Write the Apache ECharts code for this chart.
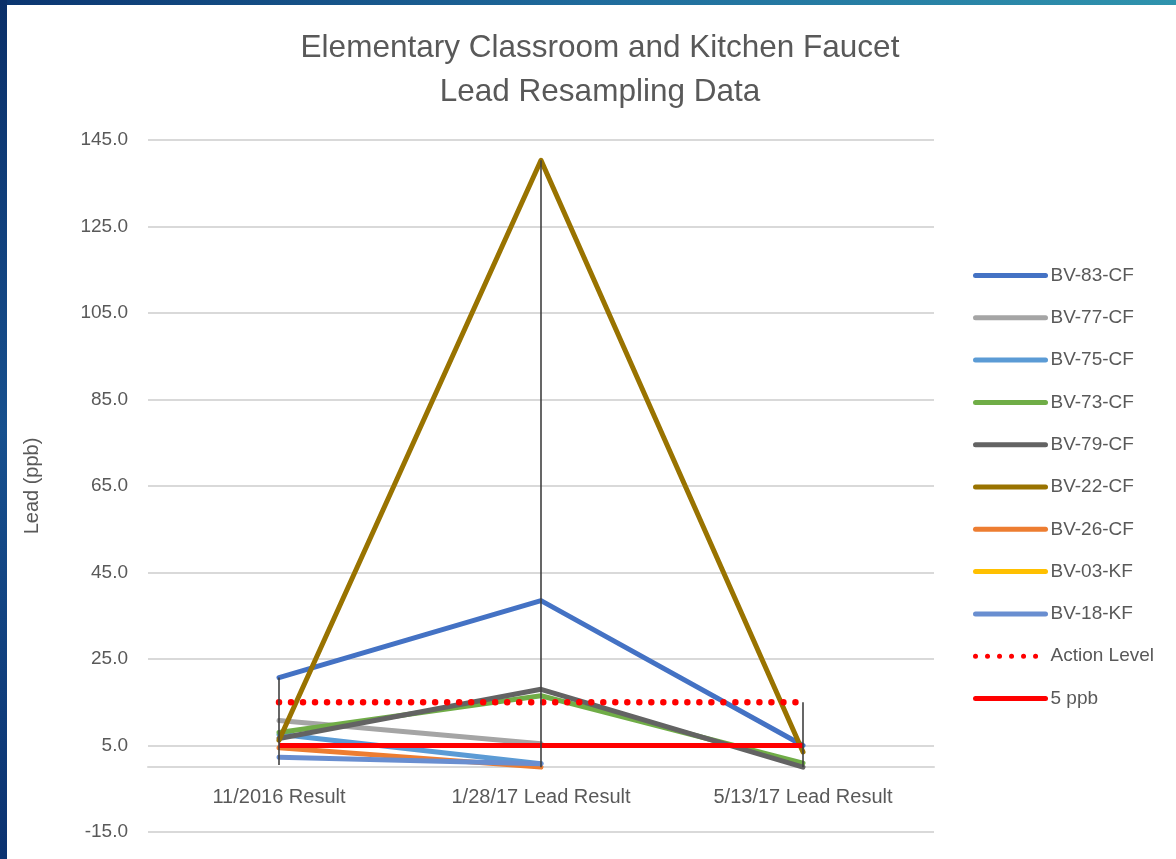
<!DOCTYPE html>
<html>
<head>
<meta charset="utf-8">
<script src="https://cdn.jsdelivr.net/npm/echarts@6/dist/echarts.min.js"></script>
<style>
html,body{margin:0;padding:0;}
#chart{width:1176px;height:859px;
background:
 linear-gradient(to bottom,#0a2f68,#17508e 50%,#0b3270) left top/7px 100% no-repeat,
 linear-gradient(to right,#0b3570,#1f6b9c 50%,#2f93ad) left top/100% 5px no-repeat,
 #ffffff;}
</style>
</head>
<body>
<div id="chart"></div>
<script>
const categories = ['11/2016 Result', '1/28/17 Lead Result', '5/13/17 Lead Result'];
const yTicks = [-15, 5, 25, 45, 65, 85, 105, 125, 145];

const bv83cf = [20.7, 38.5, 5.0];
const bv77cf = [10.8, 5.4, null];
const bv75cf = [7.6, 0.8, null];
const bv73cf = [8.0, 16.5, 0.9];
const bv79cf = [6.6, 18.0, 0.0];
const bv22cf = [6.2, 140.3, 3.5];
const bv26cf = [4.5, 0.0, null];
const bv03kf = [0.5, null, null];
const bv18kf = [2.3, 0.8, null];
const actionLevel = [15, 15, 15];
const fivePpb = [5, 5, 5];

const seriesDefs = [
  {name: 'BV-83-CF', data: bv83cf, color: '#4472C4'},
  {name: 'BV-77-CF', data: bv77cf, color: '#A5A5A5'},
  {name: 'BV-75-CF', data: bv75cf, color: '#5B9BD5'},
  {name: 'BV-73-CF', data: bv73cf, color: '#70AD47'},
  {name: 'BV-79-CF', data: bv79cf, color: '#636363'},
  {name: 'BV-22-CF', data: bv22cf, color: '#997300'},
  {name: 'BV-26-CF', data: bv26cf, color: '#ED7D31'},
  {name: 'BV-03-KF', data: bv03kf, color: '#FFC000'},
  {name: 'BV-18-KF', data: bv18kf, color: '#698ED0'}
];

const allSeriesData = seriesDefs.map(s => s.data).concat([actionLevel, fivePpb]);
const hiLo = categories.map((c, i) => {
  const vals = allSeriesData.map(d => d[i]).filter(v => v !== null && v !== undefined);
  return [i, Math.min.apply(null, vals), Math.max.apply(null, vals)];
});

const textColor = '#595959';
const font = 'Liberation Sans';

const series = seriesDefs.map((s, k) => ({
  name: s.name, type: 'line', data: s.data, symbol: 'none', showSymbol: false,
  connectNulls: false, z: 2 + k * 0.01,
  lineStyle: {color: s.color, width: 5, cap: 'round', join: 'round'},
  itemStyle: {color: s.color}
}));
series.push({
  name: 'Action Level', type: 'line', data: actionLevel, symbol: 'none',
  z: 3,
  lineStyle: {color: '#FF0000', width: 6.5, type: [0.01, 12], cap: 'round'},
  itemStyle: {color: '#FF0000'}
});
series.push({
  name: '5 ppb', type: 'line', data: fivePpb, symbol: 'none',
  z: 3.1,
  lineStyle: {color: '#FF0000', width: 5},
  itemStyle: {color: '#FF0000'}
});
series.push({
  name: 'hilo', type: 'custom', data: hiLo, z: 4, silent: true,
  encode: {x: 0, y: [1, 2]},
  renderItem: function (params, api) {
    const idx = api.value(0);
    const p1 = api.coord([idx, api.value(2)]);
    const p2 = api.coord([idx, api.value(1)]);
    return {type: 'line', shape: {x1: p1[0], y1: p1[1], x2: p2[0], y2: p2[1]},
      style: {stroke: '#404040', lineWidth: 1.6}};
  }
});

const chart = echarts.init(document.getElementById('chart'), null, {renderer: 'canvas'});
chart.setOption({
  backgroundColor: 'transparent',
  animation: false,
  title: {
    text: 'Elementary Classroom and Kitchen Faucet\nLead Resampling Data',
    left: 595, top: 21, textAlign: 'center',
    textStyle: {fontFamily: font, fontSize: 31.5, fontWeight: 'normal', color: textColor, lineHeight: 44}
  },
  legend: {
    orient: 'vertical', left: 968, top: 261,
    itemWidth: 70, itemHeight: 18, itemGap: 23.3,
    data: seriesDefs.map(s => s.name).concat(['Action Level', '5 ppb']),
    itemStyle: {opacity: 0},
    lineStyle: {width: 5, cap: 'round'},
    textStyle: {fontFamily: font, fontSize: 19, color: textColor, lineHeight: 18}
  },
  grid: {left: 148, top: 140, width: 786, height: 692, containLabel: false, outerBoundsMode: 'none'},
  xAxis: {
    type: 'category', data: categories, boundaryGap: true,
    axisLine: {show: true, onZero: true, lineStyle: {color: '#D9D9D9', width: 2}},
    axisTick: {show: false},
    axisLabel: {fontFamily: font, fontSize: 20, color: textColor, margin: -45}
  },
  yAxis: {
    type: 'value', min: -15, max: 145,
    name: 'Lead (ppb)', nameLocation: 'middle', nameGap: 106, nameRotate: 90,
    nameTextStyle: {fontFamily: font, fontSize: 20, color: textColor},
    axisLine: {show: false},
    axisTick: {show: false, customValues: yTicks},
    axisLabel: {fontFamily: font, fontSize: 19, color: textColor, margin: 20,
      customValues: yTicks, formatter: v => v.toFixed(1)},
    splitLine: {show: true, lineStyle: {color: '#D9D9D9', width: 2}}
  },
  series: series
});
</script>
</body>
</html>
